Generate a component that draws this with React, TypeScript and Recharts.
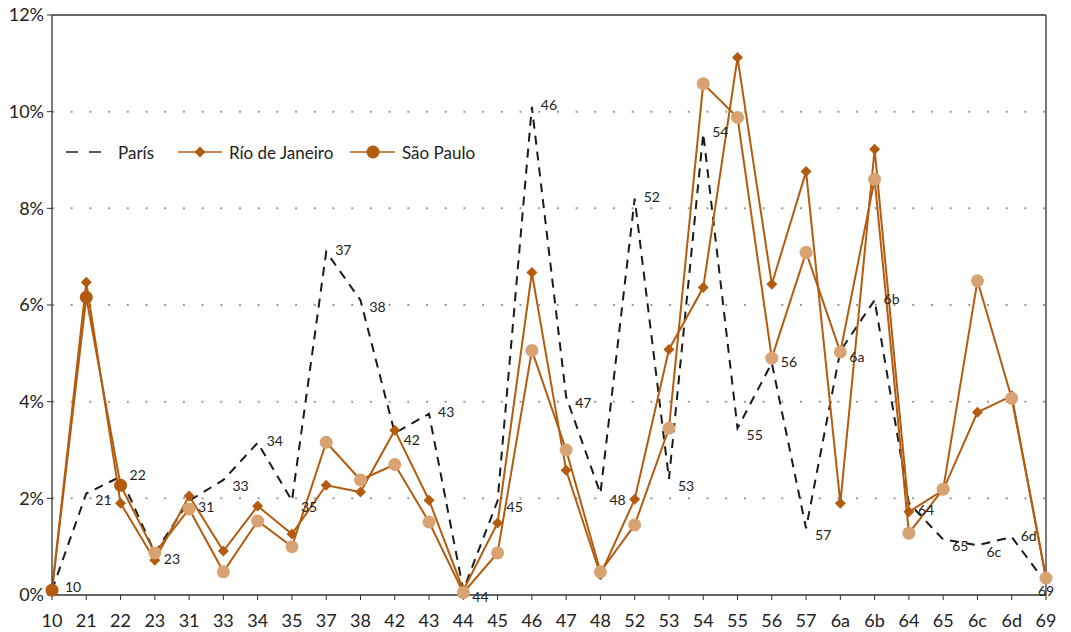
import React from 'react';
import {
  LineChart, Line, XAxis, YAxis, CartesianGrid, ReferenceLine, LabelList,
} from 'recharts';

const categories = ['10', '21', '22', '23', '31', '33', '34', '35', '37', '38', '42', '43', '44', '45', '46', '47', '48', '52', '53', '54', '55', '56', '57', '6a', '6b', '64', '65', '6c', '6d', '69'];

const paris = [0.1, 2.1, 2.45, 0.87, 1.95, 2.38, 3.15, 1.95, 7.1, 6.1, 3.35, 3.75, 0.1, 1.95, 10.1, 4.1, 2.1, 8.2, 2.4, 9.55, 3.45, 4.8, 1.38, 5.05, 6.1, 1.9, 1.15, 1.03, 1.2, 0.25];
const rio = [0.1, 6.47, 1.9, 0.72, 2.05, 0.91, 1.84, 1.26, 2.27, 2.13, 3.41, 1.96, 0.1, 1.49, 6.67, 2.58, 0.42, 1.98, 5.08, 6.36, 11.12, 6.43, 8.76, 1.9, 9.22, 1.72, 2.17, 3.78, 4.12, 0.35];
const saoPaulo = [0.1, 6.16, 2.27, 0.87, 1.78, 0.48, 1.53, 1.0, 3.16, 2.38, 2.7, 1.51, 0.05, 0.87, 5.06, 3.0, 0.48, 1.45, 3.45, 10.58, 9.88, 4.9, 7.09, 5.03, 8.6, 1.28, 2.19, 6.5, 4.07, 0.35];

const yTicks = [0, 2, 4, 6, 8, 10, 12];

const data = categories.map((cat, i) => ({
  cat,
  paris: paris[i],
  rio: rio[i],
  sp: saoPaulo[i],
}));

const BROWN = '#B35C10';
const TAN = '#D9A273';
const FONT = 'Lato, "Open Sans", sans-serif';

const Diamond = (props: any) => {
  const { cx, cy } = props;
  if (cx == null || cy == null) return null;
  const s = 5.5;
  return (
    <polygon
      points={`${cx},${cy - s} ${cx + s},${cy} ${cx},${cy + s} ${cx - s},${cy}`}
      fill={BROWN}
    />
  );
};

const SpDot = (props: any) => {
  const { cx, cy, index } = props;
  if (cx == null || cy == null) return null;
  return <circle cx={cx} cy={cy} r={6.5} fill={index <= 2 ? BROWN : TAN} />;
};

const ParisLabel = (props: any) => {
  const { x, y, index } = props;
  const last = index === categories.length - 1;
  const v = paris[index];
  const prev = index > 0 ? paris[index - 1] : -1;
  const next = index < paris.length - 1 ? paris[index + 1] : -1;
  const peak = v > prev && v > next;
  if (last) {
    return (
      <text x={x} y={y + 8} textAnchor="middle" dominantBaseline="central" fontSize={14} fontFamily={FONT} fill="#222">
        {categories[index]}
      </text>
    );
  }
  return (
    <text
      x={x + (index === 0 ? 13 : 9)}
      y={y + (index === 0 ? -4 : peak ? -2 : 6)}
      dominantBaseline="central"
      fontSize={14}
      fontFamily={FONT}
      fill="#222"
    >
      {categories[index]}
    </text>
  );
};

const LegendBox = () => (
  <svg width={440} height={26} style={{ display: 'block' }}>
    <line x1={6} y1={13} x2={50} y2={13} stroke="#222" strokeWidth={1.6} strokeDasharray="12 11" />
    <text x={58} y={13} dominantBaseline="central" fontSize={17} fontFamily={FONT} fill="#222">París</text>
    <line x1={118} y1={13} x2={162} y2={13} stroke={BROWN} strokeWidth={1.6} />
    <Diamond cx={140} cy={13} />
    <text x={169} y={13} dominantBaseline="central" fontSize={17} fontFamily={FONT} fill="#222">Río de Janeiro</text>
    <line x1={290} y1={13} x2={335} y2={13} stroke={BROWN} strokeWidth={1.6} />
    <circle cx={313} cy={13} r={6.5} fill={BROWN} />
    <text x={342} y={13} dominantBaseline="central" fontSize={17} fontFamily={FONT} fill="#222">São Paulo</text>
  </svg>
);

export default function App() {
  return (
    <div style={{ position: 'absolute', left: 0, top: 0, width: 1071, height: 632, background: '#fff' }}>
      <LineChart
        width={1071}
        height={632}
        data={data}
        margin={{ top: 15, right: 25, left: 8, bottom: 7 }}
      >
        <CartesianGrid
          horizontal
          vertical={false}
          stroke="#9a9a9a"
          strokeWidth={2}
          strokeDasharray="2 16.7"
          horizontalValues={[2, 4, 6, 8, 10]}
        />
        <XAxis
          dataKey="cat"
          padding={{ left: 0, right: 0 }}
          interval={0}
          height={30}
          axisLine={{ stroke: '#333', strokeWidth: 1.3 }}
          tickLine={{ stroke: '#333' }}
          tickSize={5}
          tick={{ fontSize: 18, fontFamily: FONT, fill: '#222' }}
          tickMargin={14}
        />
        <YAxis
          domain={[0, 12]}
          ticks={yTicks}
          width={44}
          interval={0}
          tickFormatter={(v: number) => `${v}%`}
          axisLine={{ stroke: '#333', strokeWidth: 1.3 }}
          tickLine={{ stroke: '#333' }}
          tickSize={5}
          tick={{ fontSize: 18, fontFamily: FONT, fill: '#222' }}
          tickMargin={3}
        />
        <ReferenceLine y={12} stroke="#333" strokeWidth={1.3} />
        <ReferenceLine x="69" stroke="#333" strokeWidth={1.3} />
        <Line
          dataKey="paris"
          stroke="#1a1a1a"
          strokeWidth={2}
          strokeDasharray="9 7"
          dot={false}
          activeDot={false}
          isAnimationActive={false}
        >
          <LabelList dataKey="cat" content={<ParisLabel />} />
        </Line>
        <Line
          dataKey="rio"
          stroke={BROWN}
          strokeWidth={2}
          dot={<Diamond />}
          activeDot={false}
          isAnimationActive={false}
        />
        <Line
          dataKey="sp"
          stroke={BROWN}
          strokeWidth={2}
          dot={<SpDot />}
          activeDot={false}
          isAnimationActive={false}
        />
      </LineChart>
      <div style={{ position: 'absolute', left: 60, top: 139 }}>
        <LegendBox />
      </div>
    </div>
  );
}
